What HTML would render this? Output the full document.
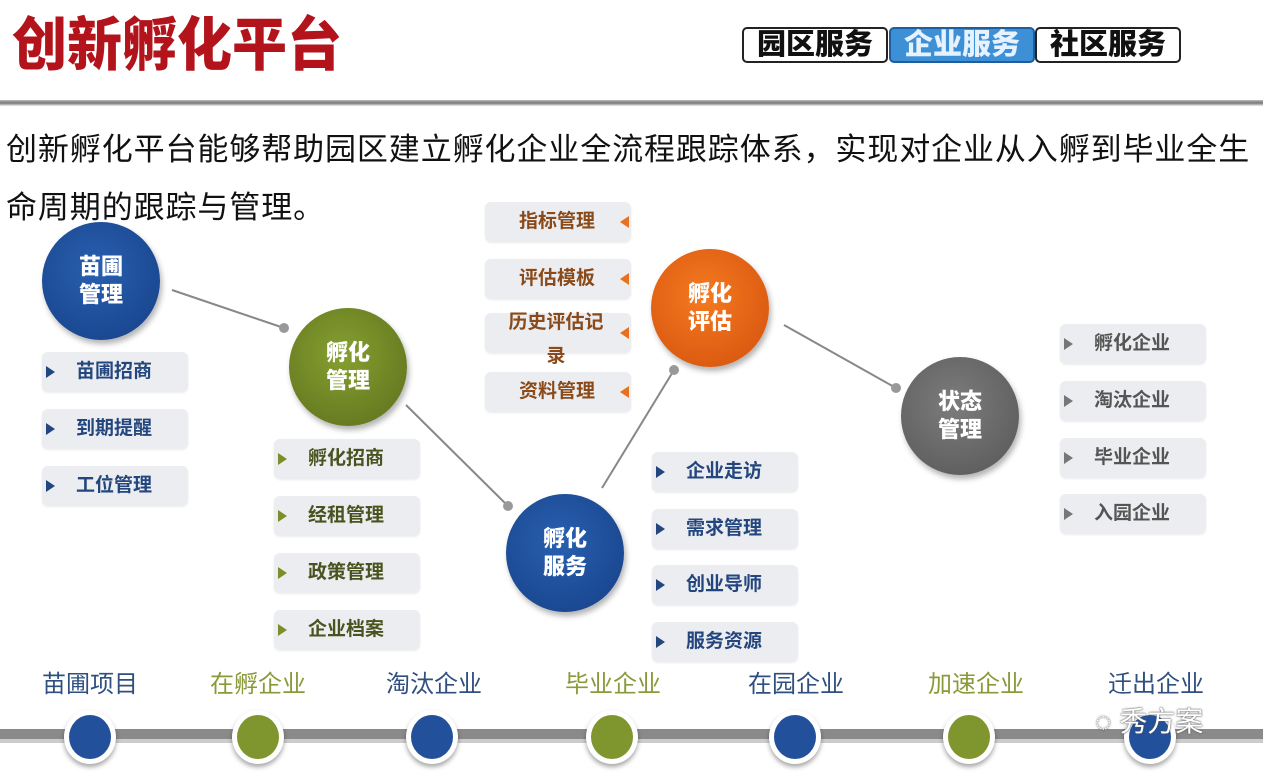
<!DOCTYPE html>
<html><head><meta charset="utf-8"><style>
*{margin:0;padding:0;box-sizing:border-box}
body{width:1263px;height:773px;background:#fff;position:relative;overflow:hidden;font-family:"Liberation Sans","Noto Sans CJK SC",sans-serif}
.a{position:absolute}
.title{left:12px;top:10px;font-size:55px;font-weight:900;color:#b3141c;letter-spacing:0;line-height:70px;transform:scaleY(1.05)}
.tab{top:27px;height:36px;border:2px solid #222;border-radius:5px;font-size:29px;font-weight:900;line-height:32px;text-align:center;width:146px;color:#111}
.circ{border-radius:50%;color:#fff;font-weight:900;font-size:22px;line-height:28px;text-align:center;display:flex;align-items:center;justify-content:center;box-shadow:2px 4px 6px rgba(0,0,0,.3)}
.box{width:146px;height:40px;background:#ecedf0;border-radius:6px;font-weight:bold;font-size:19px;line-height:40px;box-shadow:0 1px 2px rgba(0,0,0,.08)}
.box .t{position:absolute;left:34px;top:0}
.tri{position:absolute;left:4px;top:14px;width:0;height:0;border-top:6px solid transparent;border-bottom:6px solid transparent;border-left:9px solid}
.tril{position:absolute;right:2px;top:14px;width:0;height:0;border-top:6px solid transparent;border-bottom:6px solid transparent;border-right:9px solid #e8701e}
.lbl{top:664px;font-size:24px;width:130px;text-align:center}
.dot{top:710px;width:52px;height:54px;border-radius:50%;border:5px solid #fff;box-shadow:0 3px 5px rgba(0,0,0,.35)}
</style></head><body>
<div class="a title">创新孵化平台</div>
<div class="a tab" style="left:742px">园区服务</div>
<div class="a tab" style="left:889px;background:#3d8fd6;color:#e6f3ff;border-color:#1f5e9e">企业服务</div>
<div class="a tab" style="left:1035px">社区服务</div>
<div class="a" style="left:0;top:100px;width:1263px;height:6px;background:linear-gradient(#bbb,#777 50%,#eee)"></div>
<div class="a" style="left:6px;top:121px;font-size:31px;letter-spacing:0.9px;line-height:58px;color:#111;white-space:nowrap">创新孵化平台能够帮助园区建立孵化企业全流程跟踪体系，实现对企业从入孵到毕业全生<br>命周期的跟踪与管理。</div>

<svg class="a" style="left:0;top:0" width="1263" height="773">
<g stroke="#888" stroke-width="2"><line x1="172" y1="290" x2="284" y2="328"/><line x1="406" y1="405" x2="508" y2="506"/><line x1="602" y1="488" x2="674" y2="370"/><line x1="784" y1="325" x2="896" y2="388"/></g>
<g fill="#999"><circle cx="284" cy="328" r="5"/><circle cx="508" cy="506" r="5"/><circle cx="674" cy="370" r="5"/><circle cx="896" cy="388" r="5"/></g>
<rect x="0" y="729" width="1263" height="10" fill="#8a8a8a"/>
<rect x="0" y="739" width="1263" height="4" fill="#ccc"/>
</svg>

<div class="a circ" style="left:42px;top:222px;width:118px;height:118px;background:radial-gradient(circle at 45% 40%,#2860b0,#163f86)">苗圃<br>管理</div>
<div class="a circ" style="left:289px;top:308px;width:118px;height:118px;background:radial-gradient(circle at 45% 40%,#86a030,#5c6e1c)">孵化<br>管理</div>
<div class="a circ" style="left:506px;top:494px;width:118px;height:118px;background:radial-gradient(circle at 45% 40%,#2860b0,#163f86)">孵化<br>服务</div>
<div class="a circ" style="left:651px;top:249px;width:118px;height:118px;background:radial-gradient(circle at 45% 40%,#f57a20,#d2500c)">孵化<br>评估</div>
<div class="a circ" style="left:901px;top:357px;width:118px;height:118px;background:radial-gradient(circle at 45% 40%,#7c7c7c,#565656)">状态<br>管理</div>

<div class="a box" style="left:42px;top:352px;color:#24467e"><div class="tri" style="border-left-color:#24467e"></div><span class="t">苗圃招商</span></div>
<div class="a box" style="left:42px;top:409px;color:#24467e"><div class="tri" style="border-left-color:#24467e"></div><span class="t">到期提醒</span></div>
<div class="a box" style="left:42px;top:466px;color:#24467e"><div class="tri" style="border-left-color:#24467e"></div><span class="t">工位管理</span></div>

<div class="a box" style="left:274px;top:439px;color:#4a5320"><div class="tri" style="border-left-color:#7a8f2a"></div><span class="t">孵化招商</span></div>
<div class="a box" style="left:274px;top:496px;color:#4a5320"><div class="tri" style="border-left-color:#7a8f2a"></div><span class="t">经租管理</span></div>
<div class="a box" style="left:274px;top:553px;color:#4a5320"><div class="tri" style="border-left-color:#7a8f2a"></div><span class="t">政策管理</span></div>
<div class="a box" style="left:274px;top:610px;color:#4a5320"><div class="tri" style="border-left-color:#7a8f2a"></div><span class="t">企业档案</span></div>

<div class="a box" style="left:485px;top:202px;color:#8a4a1a"><span class="t">指标管理</span><div class="tril"></div></div>
<div class="a box" style="left:485px;top:259px;color:#8a4a1a"><span class="t">评估模板</span><div class="tril"></div></div>
<div class="a box" style="left:485px;top:313px;color:#8a4a1a;line-height:34px"><span class="t" style="left:16px;width:110px;text-align:center;top:-7px">历史评估记录</span><div class="tril"></div></div>
<div class="a box" style="left:485px;top:372px;color:#8a4a1a"><span class="t">资料管理</span><div class="tril"></div></div>

<div class="a box" style="left:652px;top:452px;color:#24467e"><div class="tri" style="border-left-color:#24467e"></div><span class="t">企业走访</span></div>
<div class="a box" style="left:652px;top:509px;color:#24467e"><div class="tri" style="border-left-color:#24467e"></div><span class="t">需求管理</span></div>
<div class="a box" style="left:652px;top:565px;color:#24467e"><div class="tri" style="border-left-color:#24467e"></div><span class="t">创业导师</span></div>
<div class="a box" style="left:652px;top:622px;color:#24467e"><div class="tri" style="border-left-color:#24467e"></div><span class="t">服务资源</span></div>

<div class="a box" style="left:1060px;top:324px;color:#555"><div class="tri" style="border-left-color:#777"></div><span class="t">孵化企业</span></div>
<div class="a box" style="left:1060px;top:381px;color:#555"><div class="tri" style="border-left-color:#777"></div><span class="t">淘汰企业</span></div>
<div class="a box" style="left:1060px;top:438px;color:#555"><div class="tri" style="border-left-color:#777"></div><span class="t">毕业企业</span></div>
<div class="a box" style="left:1060px;top:494px;color:#555"><div class="tri" style="border-left-color:#777"></div><span class="t">入园企业</span></div>

<div class="a lbl" style="left:25px;color:#2f4f80">苗圃项目</div>
<div class="a lbl" style="left:193px;color:#8a9a3a">在孵企业</div>
<div class="a lbl" style="left:369px;color:#2f4f80">淘汰企业</div>
<div class="a lbl" style="left:548px;color:#8a9a3a">毕业企业</div>
<div class="a lbl" style="left:731px;color:#2f4f80">在园企业</div>
<div class="a lbl" style="left:911px;color:#8a9a3a">加速企业</div>
<div class="a lbl" style="left:1091px;color:#2f4f80">迁出企业</div>

<div class="a dot" style="left:64px;background:#22509a"></div>
<div class="a dot" style="left:232px;background:#7f952e"></div>
<div class="a dot" style="left:406px;background:#22509a"></div>
<div class="a dot" style="left:586px;background:#7f952e"></div>
<div class="a dot" style="left:769px;background:#22509a"></div>
<div class="a dot" style="left:943px;background:#7f952e"></div>
<div class="a dot" style="left:1124px;background:#22509a"></div>
<div class="a" style="left:1095px;top:700px;font-size:28px;color:#fff;text-shadow:0 0 2px #555,0 0 1px #555">◌ 秀方案</div>
</body></html>
